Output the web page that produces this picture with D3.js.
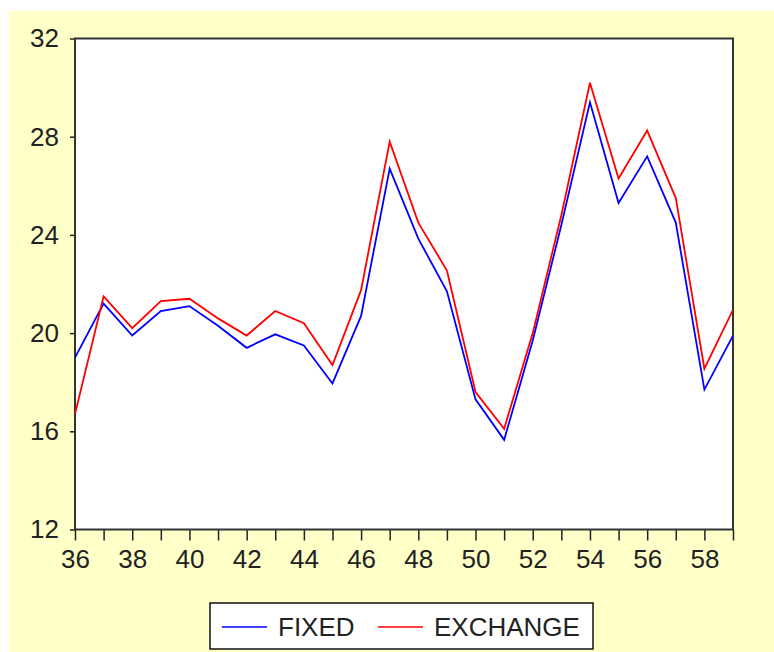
<!DOCTYPE html>
<html>
<head>
<meta charset="utf-8">
<script src="https://cdn.jsdelivr.net/npm/d3@7/dist/d3.min.js"></script>
<style>
  html, body { margin: 0; padding: 0; background: #ffffff; }
  svg { display: block; }
</style>
</head>
<body>
<script>
const years = d3.range(36, 60);
const fixed = [19.0, 21.2, 19.9, 20.9, 21.1, 20.3, 19.4, 19.95, 19.5, 17.95, 20.7, 26.7, 23.85, 21.7, 17.3, 15.65, 19.7, 24.4, 29.4, 25.3, 27.2, 24.5, 17.7, 19.9];
const exchange = [16.7, 21.5, 20.2, 21.3, 21.4, 20.6, 19.9, 20.9, 20.4, 18.7, 21.75, 27.8, 24.5, 22.55, 17.6, 16.1, 20.0, 24.8, 30.2, 26.3, 28.25, 25.5, 18.55, 20.95];
const yTicks = [12, 16, 20, 24, 28, 32];
const xLabelYears = d3.range(36, 60, 2);
const seriesNames = ["FIXED", "EXCHANGE"];
const seriesColors = ["#0000ff", "#ff0000"];

const W = 774, H = 652;
const svg = d3.select("body").append("svg").attr("width", W).attr("height", H);

// background panel
svg.append("rect").attr("x", 9).attr("y", 11).attr("width", W - 9).attr("height", H - 11).attr("fill", "#ffffc8");

const plot = { left: 75, right: 733, top: 38.5, bottom: 529.5 };
svg.append("rect").attr("x", plot.left).attr("y", plot.top)
  .attr("width", plot.right - plot.left).attr("height", plot.bottom - plot.top)
  .attr("fill", "#ffffff");

const x = d3.scaleLinear().domain([36, 59]).range([plot.left, plot.right]);
const y = d3.scaleLinear().domain([12, 32]).range([plot.bottom, plot.top]);

const font = "'Liberation Sans', Arial, sans-serif";

// y axis
const yAxis = svg.append("g").attr("transform", `translate(${plot.left},0)`)
  .call(d3.axisLeft(y).tickValues(yTicks).tickSize(5).tickPadding(11).tickFormat(d3.format("d")));
yAxis.select(".domain").remove();
yAxis.selectAll("line").attr("stroke", "#222").attr("stroke-width", 1.5);
yAxis.selectAll("text").attr("font-family", font).attr("font-size", 26).attr("fill", "#222");

// x axis
const xAxis = svg.append("g").attr("transform", `translate(0,${plot.bottom})`)
  .call(d3.axisBottom(x).tickValues(years).tickSize(11).tickPadding(9)
    .tickFormat(d => xLabelYears.includes(d) ? String(d) : ""));
xAxis.select(".domain").remove();
xAxis.selectAll("line").attr("stroke", "#222").attr("stroke-width", 1.5);
xAxis.selectAll("text").attr("font-family", font).attr("font-size", 26).attr("fill", "#222");

// frame
svg.append("rect").attr("x", plot.left).attr("y", plot.top)
  .attr("width", plot.right - plot.left).attr("height", plot.bottom - plot.top)
  .attr("fill", "none").attr("stroke", "#333").attr("stroke-width", 2);

// lines
const line = d3.line().x((d, i) => x(years[i])).y(d => y(d));
svg.append("clipPath").attr("id", "clip").append("rect")
  .attr("x", plot.left).attr("y", plot.top).attr("width", plot.right - plot.left).attr("height", plot.bottom - plot.top);
[fixed, exchange].forEach((s, k) => {
  svg.append("path").datum(s).attr("d", line).attr("fill", "none")
    .attr("stroke", seriesColors[k]).attr("stroke-width", 1.8)
    .attr("stroke-linejoin", "miter").attr("clip-path", "url(#clip)");
});

// legend
const lg = svg.append("g");
lg.append("rect").attr("x", 210).attr("y", 603).attr("width", 383).attr("height", 46)
  .attr("fill", "#ffffff").attr("stroke", "#111").attr("stroke-width", 1.5);
const legendItems = [
  { name: seriesNames[0], color: seriesColors[0], x1: 222, x2: 267, tx: 278 },
  { name: seriesNames[1], color: seriesColors[1], x1: 378, x2: 423, tx: 434 }
];
legendItems.forEach(it => {
  lg.append("line").attr("x1", it.x1).attr("x2", it.x2).attr("y1", 627).attr("y2", 627)
    .attr("stroke", it.color).attr("stroke-width", 1.7);
  lg.append("text").attr("x", it.tx).attr("y", 636).text(it.name)
    .attr("font-family", font).attr("font-size", 26).attr("fill", "#222");
});
</script>
</body>
</html>
